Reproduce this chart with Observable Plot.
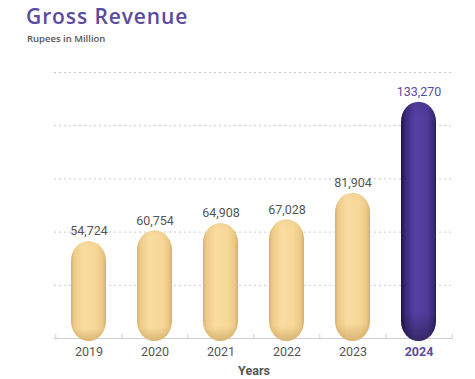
<!DOCTYPE html>
<html>
<head>
<meta charset="utf-8">
<script src="https://cdn.jsdelivr.net/npm/d3@7"></script>
<script src="https://cdn.jsdelivr.net/npm/@observablehq/plot@0.6"></script>
<style>
  body { margin: 0; background: #fff; }
  #head { position: relative; width: 475px; height: 50px; }
  #title { position: absolute; left: 26px; top: 3px; font: 600 21px "Open Sans", sans-serif; letter-spacing: 0.9px; color: #5b4b9f; line-height: 26px; white-space: nowrap; }
  #sub { position: absolute; left: 27px; top: 33px; font: 600 9.5px "Open Sans", sans-serif; color: #555; line-height: 12px; white-space: nowrap; }
  #chart svg { display: block; }
</style>
</head>
<body>
<div id="head">
  <div id="title">Gross Revenue</div>
  <div id="sub">Rupees in Million</div>
</div>
<div id="chart"></div>
<script>
const years = ["2019", "2020", "2021", "2022", "2023", "2024"];
const revenue = [54724, 60754, 64908, 67028, 81904, 133270];
const yTicks = [30000, 60000, 90000, 120000, 150000];
const highlightYear = "2024";
const xAxisTitle = "Years";

const data = years.map((year, i) => ({year, value: revenue[i]}));
const regular = data.filter(d => d.year !== highlightYear);
const highlight = data.filter(d => d.year === highlightYear);

const W = 475, H = 329, ML = 54, MR = 22, MT = 22, MB = 41;
const step = (W - ML - MR) / years.length;
const fmt = d3.format(",");
const grey = "#555";
const purple = "#5b4b9f";
const font = "Roboto, sans-serif";

const chart = Plot.plot({
  width: W,
  height: H,
  marginLeft: ML,
  marginRight: MR,
  marginTop: MT,
  marginBottom: MB,
  style: {fontFamily: font, background: "#fff"},
  x: {domain: years, paddingInner: 0.47, paddingOuter: 0.235, axis: null},
  y: {domain: [0, 150000], axis: null},
  marks: [
    Plot.gridY(yTicks, {stroke: "#c8c8c8", strokeOpacity: 1, strokeDasharray: "2,3"}),
    Plot.ruleY([0], {stroke: "#cfcfcf", strokeWidth: 1}),
    Plot.ruleX(years, {x: d => d, y1: 0, y2: 0, dx: -step / 2, insetTop: -4, insetBottom: -1, stroke: "#cfcfcf"}),
    Plot.ruleX(years.slice(-1), {x: d => d, y1: 0, y2: 0, dx: step / 2, insetTop: -4, insetBottom: -1, stroke: "#cfcfcf"}),
    Plot.barY(regular, {x: "year", y: "value", fill: "url(#gBeige)", rx: 20, insetBottom: -3}),
    Plot.barY(regular, {x: "year", y: "value", fill: "url(#gShadeB)", rx: 20, insetBottom: -3}),
    Plot.barY(highlight, {x: "year", y: "value", fill: "url(#gPurple)", rx: 20, insetBottom: -3}),
    Plot.barY(highlight, {x: "year", y: "value", fill: "url(#gShadeP)", rx: 20, insetBottom: -3}),
    Plot.text(regular, {x: "year", y: "value", text: d => fmt(d.value), dy: -10, fill: grey, fontSize: 12.5, lineAnchor: "middle"}),
    Plot.text(highlight, {x: "year", y: "value", text: d => fmt(d.value), dy: -10, fill: purple, fontSize: 12.5, lineAnchor: "middle"}),
    Plot.axisX(years.filter(y => y !== highlightYear), {tickSize: 0, tickPadding: 9, fontSize: 12.5, fill: grey, label: null}),
    Plot.axisX([highlightYear], {tickSize: 0, tickPadding: 9, fontSize: 12.5, fill: purple, fontWeight: "bold", label: null}),
    Plot.text([xAxisTitle], {frameAnchor: "bottom", dy: 32, fill: grey, fontSize: 12.5, fontWeight: "bold", lineAnchor: "middle"})
  ]
});

const svg = d3.select(chart);
const defs = svg.insert("defs", ":first-child");
function hGrad(id, stops) {
  const g = defs.append("linearGradient").attr("id", id).attr("x1", 0).attr("x2", 1).attr("y1", 0).attr("y2", 0);
  stops.forEach(([o, c]) => g.append("stop").attr("offset", o).attr("stop-color", c));
}
function vShade(id, color, topA, botA) {
  const g = defs.append("linearGradient").attr("id", id).attr("x1", 0).attr("x2", 0).attr("y1", 0).attr("y2", 1);
  [["0%", topA], ["6%", 0], ["88%", 0], ["100%", botA]].forEach(([o, a]) =>
    g.append("stop").attr("offset", o).attr("stop-color", color).attr("stop-opacity", a));
}
hGrad("gBeige", [["0%", "#d8b06b"], ["10%", "#eecb8a"], ["35%", "#f9dca0"], ["70%", "#f7d899"], ["90%", "#ecc886"], ["100%", "#d5ae6c"]]);
hGrad("gPurple", [["0%", "#1f1248"], ["12%", "#3a287c"], ["40%", "#5641a3"], ["75%", "#503b9a"], ["92%", "#3d2b7e"], ["100%", "#2a1c60"]]);
vShade("gShadeB", "#8a5a12", 0.05, 0.3);
vShade("gShadeP", "#000", 0.08, 0.35);

document.getElementById("chart").appendChild(chart);
</script>
</body>
</html>
